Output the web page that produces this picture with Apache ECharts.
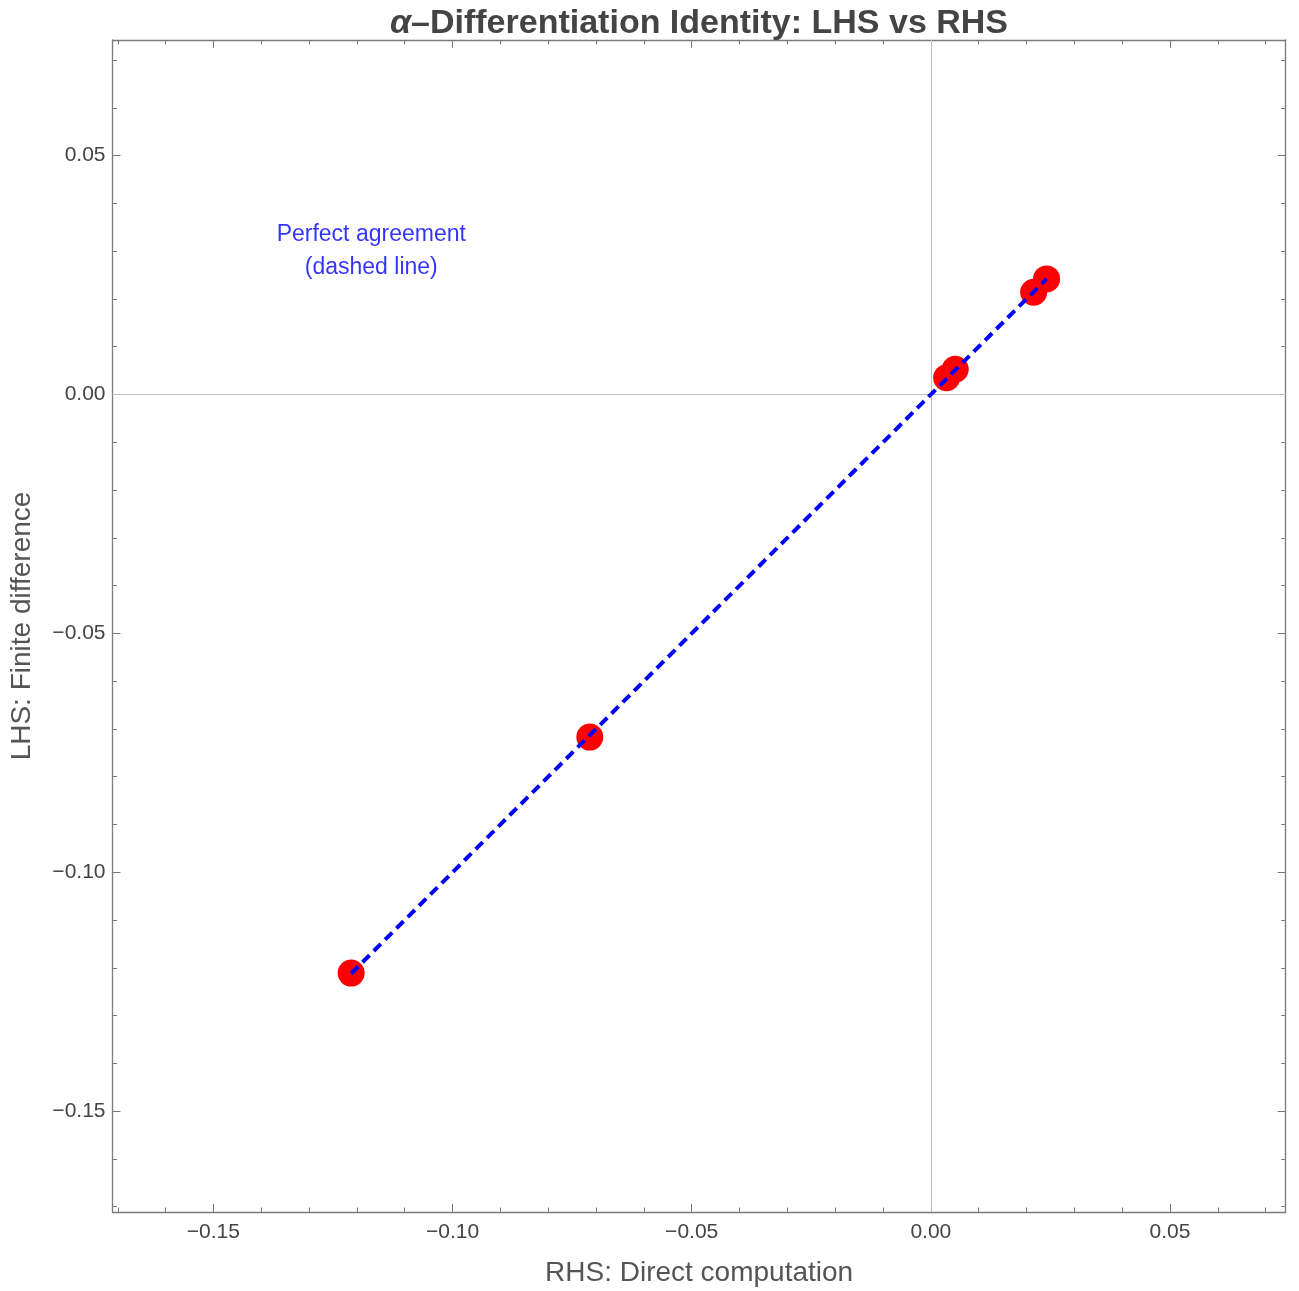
<!DOCTYPE html>
<html>
<head>
<meta charset="utf-8">
<script src="https://cdn.jsdelivr.net/npm/echarts@6/dist/echarts.min.js"></script>
<style>html,body{margin:0;padding:0;background:#fff}#c{width:1299px;height:1291px}</style>
</head>
<body>
<div id="c"></div>
<script>
// Data
const rhsValues = [-0.1212, -0.0713, 0.0033, 0.0051, 0.0215, 0.0242];
const lhsValues = [-0.1211, -0.0717, 0.0035, 0.0053, 0.0214, 0.0242];
const agreementX = [-0.1212, 0.0242];
const agreementY = [-0.1212, 0.0242];
const noteText = ['Perfect agreement', '(dashed line)'];
const notePos = [-0.117, 0.0300];
const axisMin = -0.1711;
const axisMax = 0.0742;

const chart = echarts.init(document.getElementById('c'));
const FONT = '"Liberation Sans", Arial, sans-serif';
const frameColor = '#7a7a7a';
const fmt = v => {
  const s = Math.abs(v).toFixed(2);
  return v < -1e-9 ? '\u2212' + s : s;
};
function frameAxis(extra) {
  return Object.assign({
    type: 'value', min: axisMin, max: axisMax, splitNumber: 5,
    axisLine: { show: true, onZero: false, lineStyle: { color: frameColor, width: 1.3 } },
    axisTick: { show: true, inside: true, length: 8, lineStyle: { color: frameColor, width: 1 } },
    minorTick: { show: true, splitNumber: 5, length: 4.5, lineStyle: { color: frameColor, width: 1 } },
    splitLine: { show: false },
    minorSplitLine: { show: false },
    axisLabel: { show: false }
  }, extra);
}
const labelStyle = {
  show: true, fontFamily: FONT, fontSize: 21, color: '#444',
  showMinLabel: false, showMaxLabel: false, formatter: fmt
};

chart.setOption({
  animation: false,
  title: {
    text: '{a|\u03B1}\u2013Differentiation Identity: LHS vs RHS',
    left: 699, textAlign: 'center', top: 7, padding: 0,
    textStyle: {
      fontFamily: FONT, fontSize: 34, fontWeight: 'bold', color: '#444',
      rich: { a: { fontFamily: FONT, fontSize: 34, fontWeight: 'bold', fontStyle: 'italic', color: '#444' } }
    }
  },
  grid: { left: 112.5, right: 13.3, top: 40, bottom: 79, containLabel: false, outerBoundsMode: 'none' },
  xAxis: [
    frameAxis({
      position: 'bottom',
      axisLabel: Object.assign({ margin: 10 }, labelStyle),
      name: 'RHS: Direct computation', nameLocation: 'middle', nameGap: 47,
      nameTextStyle: { fontFamily: FONT, fontSize: 28, color: '#555' }
    }),
    frameAxis({ position: 'top' })
  ],
  yAxis: [
    frameAxis({
      position: 'left',
      axisLabel: Object.assign({ margin: 7 }, labelStyle),
      name: 'LHS: Finite difference', nameLocation: 'middle', nameGap: 76,
      nameTextStyle: { fontFamily: FONT, fontSize: 28, color: '#555' }
    }),
    frameAxis({ position: 'right' })
  ],
  series: [
    {
      type: 'scatter', xAxisIndex: 0, yAxisIndex: 0,
      data: rhsValues.map((x, i) => [x, lhsValues[i]]),
      symbol: 'circle', symbolSize: 27,
      itemStyle: { color: '#ff0000', opacity: 1 },
      z: 3,
      markLine: {
        silent: true, symbol: 'none', animation: false,
        label: { show: false },
        lineStyle: { color: '#bdbdbd', width: 1, type: 'solid' },
        data: [{ xAxis: 0 }, { yAxis: 0 }],
        z: 1
      }
    },
    {
      type: 'line', xAxisIndex: 0, yAxisIndex: 0,
      data: agreementX.map((x, i) => [x, agreementY[i]]),
      showSymbol: false, symbol: 'none',
      lineStyle: { color: '#0000ff', width: 4, type: [10, 6] },
      z: 4
    },
    {
      type: 'scatter', xAxisIndex: 0, yAxisIndex: 0,
      data: [notePos],
      symbolSize: 1, itemStyle: { color: 'rgba(0,0,0,0)' },
      silent: true,
      label: {
        show: true, position: 'inside',
        formatter: noteText.join('\n'),
        fontFamily: FONT, fontSize: 23, color: '#0000ff', lineHeight: 33, align: 'center'
      },
      z: 5
    }
  ]
});
</script>
</body>
</html>
